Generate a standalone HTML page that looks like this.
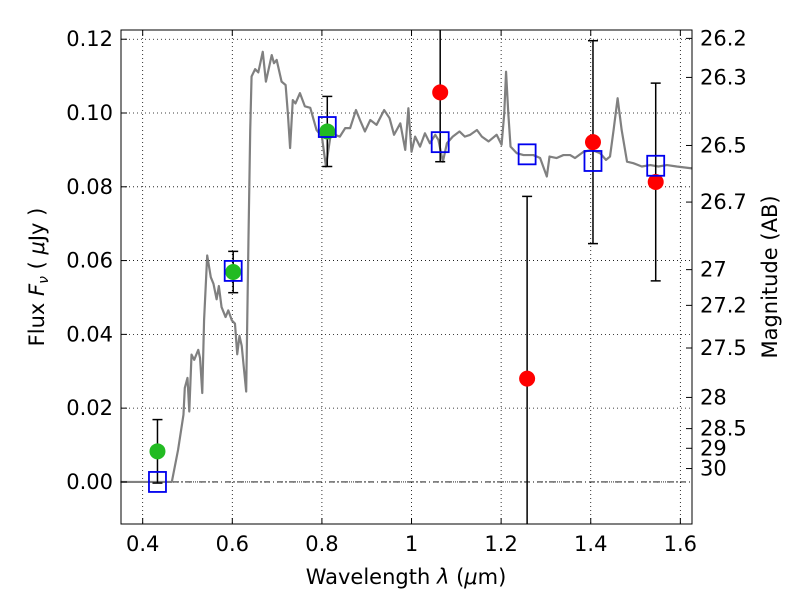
<!DOCTYPE html>
<html><head><meta charset="utf-8"><style>
html,body{margin:0;padding:0;background:#fff;}
svg text{font-family:"DejaVu Sans","Liberation Sans",sans-serif;fill:#000;}
</style></head><body>
<svg id="chart" width="800" height="600" xmlns="http://www.w3.org/2000/svg">
<g id="grid"></g>
<g id="spec"></g>
<g id="pts"></g>
<rect x="121" y="30" width="571" height="494" fill="none" stroke="#000" stroke-width="1"/>
<g id="axes"></g>
<text x="406" y="584" font-size="21" text-anchor="middle">Wavelength  <tspan font-style="italic">λ</tspan> (<tspan font-style="italic">μ</tspan>m)</text>
<text transform="translate(44,277) rotate(-90)" font-size="21" text-anchor="middle">Flux  <tspan font-style="italic">F<tspan font-size="14" dy="4">ν</tspan></tspan><tspan dy="-4">  (  <tspan font-style="italic">μ</tspan>Jy )</tspan></text>
<text transform="translate(777,277) rotate(-90)" font-size="21" text-anchor="middle">Magnitude (AB)</text>
</svg>
<script>
const xTicks=[0.4,0.6,0.8,1.0,1.2,1.4,1.6];
const xTickLabels=["0.4","0.6","0.8","1","1.2","1.4","1.6"];
const yTicks=[0,0.02,0.04,0.06,0.08,0.10,0.12];
const yTickLabels=["0.00","0.02","0.04","0.06","0.08","0.10","0.12"];
const magTicks=[26.2,26.3,26.5,26.7,27,27.2,27.5,28,28.5,29,30];
const specWave=[0.35,0.465,0.479,0.491,0.494,0.500,0.504,0.509,0.515,0.524,0.528,0.533,0.537,0.544,0.552,0.558,0.565,0.570,0.576,0.585,0.591,0.599,0.606,0.611,0.616,0.621,0.631,0.636,0.640,0.643,0.651,0.658,0.668,0.675,0.688,0.693,0.699,0.710,0.719,0.724,0.729,0.735,0.741,0.751,0.762,0.774,0.788,0.800,0.809,0.820,0.840,0.852,0.863,0.876,0.885,0.896,0.908,0.922,0.939,0.951,0.961,0.975,0.986,0.993,1.000,1.008,1.019,1.030,1.041,1.053,1.060,1.070,1.079,1.092,1.107,1.119,1.131,1.146,1.157,1.172,1.190,1.201,1.207,1.211,1.216,1.221,1.235,1.250,1.272,1.287,1.302,1.308,1.324,1.339,1.354,1.365,1.384,1.402,1.421,1.434,1.443,1.451,1.460,1.469,1.481,1.495,1.514,1.533,1.551,1.570,1.592,1.626];
const specFlux=[0.0,0.0,0.0087,0.0182,0.0255,0.0282,0.0191,0.0345,0.0331,0.0358,0.0336,0.0241,0.0438,0.0614,0.0555,0.0537,0.0495,0.0531,0.0474,0.0447,0.0465,0.0438,0.0429,0.0346,0.0396,0.0369,0.0245,0.0650,0.0954,0.1099,0.1119,0.1110,0.1166,0.1085,0.1157,0.1135,0.1144,0.1085,0.1076,0.0999,0.0905,0.1035,0.1026,0.1054,0.1018,0.1014,0.0954,0.0936,0.0855,0.0945,0.0936,0.0959,0.0959,0.1008,0.0981,0.0950,0.0981,0.0968,0.1008,0.0986,0.0941,0.0972,0.0900,0.1013,0.0895,0.0936,0.0909,0.0945,0.0918,0.0941,0.0927,0.0868,0.0918,0.0936,0.0950,0.0936,0.0941,0.0954,0.0936,0.0923,0.0941,0.0914,0.0999,0.1112,0.0999,0.0909,0.0891,0.0886,0.0886,0.0878,0.0828,0.0882,0.0878,0.0886,0.0886,0.0878,0.0895,0.0900,0.0891,0.0873,0.0882,0.0954,0.1040,0.0954,0.0868,0.0864,0.0855,0.0859,0.0855,0.0859,0.0855,0.0850];
const obsWave=[0.433,0.602,0.812,1.064,1.258,1.405,1.545];
const obsFlux=[0.0083,0.0569,0.0950,0.1056,0.028,0.0921,0.0813];
const obsErr=[0.0086,0.0056,0.0095,0.0188,0.0494,0.0275,0.0268];
const obsColor=["#22bb22","#22bb22","#22bb22","red","red","red","red"];
const modelFlux=[0.0,0.0572,0.0962,0.0921,0.0888,0.0870,0.0857];
const X0=121,X1=692,Y0=524,Y1=30,xmin=0.3516,xmax=1.626,ymin=-0.0114,ymax=0.1225;
const sx=v=>X0+(v-xmin)/(xmax-xmin)*(X1-X0);
const sy=v=>Y0-(v-ymin)/(ymax-ymin)*(Y0-Y1);
const NS="http://www.w3.org/2000/svg";
function mk(p,t,a){const e=document.createElementNS(NS,t);for(const k in a)e.setAttribute(k,a[k]);p.appendChild(e);return e;}
const grid=document.getElementById('grid'),axes=document.getElementById('axes');
xTicks.forEach((v,i)=>{const x=sx(v);
 const g=mk(grid,'line',{x1:x,x2:x,y1:Y1,y2:Y0,stroke:'#000','stroke-dasharray':'1,3','stroke-width':0.8});
 
 mk(axes,'line',{x1:x,x2:x,y1:Y0,y2:Y0-6,stroke:'#000'});mk(axes,'line',{x1:x,x2:x,y1:Y1,y2:Y1+6,stroke:'#000'});
 const t=mk(axes,'text',{x:x,y:Y0+27,'font-size':21,'text-anchor':'middle'});t.textContent=xTickLabels[i];
 });
yTicks.forEach((v,i)=>{const y=sy(v);
 const g=mk(grid,'line',{x1:X0,x2:X1,y1:y,y2:y,stroke:'#000','stroke-dasharray':'1,3','stroke-width':0.8});
 
 mk(axes,'line',{x1:X0,x2:X0+6,y1:y,y2:y,stroke:'#000'});
 const t=mk(axes,'text',{x:X0-8,y:y+7,'font-size':21,'text-anchor':'end'});t.textContent=yTickLabels[i];
 });
magTicks.forEach(m=>{const f=Math.pow(10,(23.9-m)/2.5);const y=sy(f);
 mk(axes,'line',{x1:X1,x2:X1-6,y1:y,y2:y,stroke:'#000'});
 const t=mk(axes,'text',{x:X1+8,y:y+7,'font-size':21});t.textContent=String(m);
 });
const zl=mk(grid,'line',{x1:X0,x2:X1,y1:sy(0),y2:sy(0),stroke:'#000','stroke-dasharray':'6,3,1,3','stroke-width':0.8});

const spec=document.getElementById('spec');
const pl=mk(spec,'polyline',{points:specWave.map((w,i)=>sx(w)+','+sy(specFlux[i])).join(' '),fill:'none',stroke:'#808080','stroke-width':2.2,'stroke-linejoin':'round'});

const pts=document.getElementById('pts');
obsWave.forEach((w,i)=>{const x=sx(w);
 const top=Math.max(sy(obsFlux[i]+obsErr[i]),Y1),bot=Math.min(sy(obsFlux[i]-obsErr[i]),Y0);
 const e=mk(pts,'line',{x1:x,x2:x,y1:top,y2:bot,stroke:'#000','stroke-width':1.5});
 
 if(sy(obsFlux[i]+obsErr[i])>=Y1)mk(pts,'line',{x1:x-5,x2:x+5,y1:top,y2:top,stroke:'#000','stroke-width':1.5});
 if(sy(obsFlux[i]-obsErr[i])<=Y0)mk(pts,'line',{x1:x-5,x2:x+5,y1:bot,y2:bot,stroke:'#000','stroke-width':1.5});
 const c=mk(pts,'circle',{cx:x,cy:sy(obsFlux[i]),r:8,fill:obsColor[i]});
 
 const s=mk(pts,'rect',{x:x-8.5,y:sy(modelFlux[i])-10,width:17,height:20,fill:'none',stroke:'#0000ee','stroke-width':1.8});
 });
</script>
</body></html>
